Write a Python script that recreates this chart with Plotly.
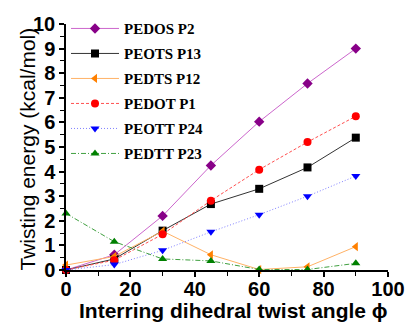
import plotly.graph_objects as go

angles = [0, 15, 30, 45, 60, 75, 90]
pedos_p2 = [0.0, 0.62, 2.2, 4.25, 6.03, 7.58, 9.0]
peots_p13 = [0.0, 0.45, 1.6, 2.68, 3.3, 4.17, 5.38]
pedts_p12 = [0.2, 0.55, 1.58, 0.62, 0.02, 0.13, 0.95]
pedot_p1 = [0.0, 0.4, 1.45, 2.82, 4.08, 5.2, 6.25]
peott_p24 = [0.0, 0.22, 0.8, 1.55, 2.25, 3.0, 3.82]
pedtt_p23 = [2.3, 1.15, 0.45, 0.37, 0.02, 0.02, 0.27]

x_title = "Interring dihedral twist angle ϕ"
y_title = "Twisting energy (kcal/mol)"

series = [
    ("PEDOS P2", pedos_p2, "#cc66cc", "#880088", "diamond", "solid"),
    ("PEOTS P13", peots_p13, "#333333", "#000000", "square", "solid"),
    ("PEDTS P12", pedts_p12, "#ffb266", "#ff8000", "triangle-left", "solid"),
    ("PEDOT P1", pedot_p1, "#ff5050", "#ff0000", "circle", "3px,2px"),
    ("PEOTT P24", peott_p24, "#8080ff", "#0000ff", "triangle-down", "1px,2px"),
    ("PEDTT P23", pedtt_p23, "#40a040", "#008000", "triangle-up", "5px,2px,1px,2px"),
]

fig = go.Figure()
for i, (name, vals, lc, mc, sym, dash) in enumerate(series):
    fig.add_trace(go.Scatter(
        x=angles, y=vals, name=name, mode="lines+markers",
        line=dict(color=lc, width=1, dash=dash),
        marker=dict(color=mc, symbol=sym, size=8),
        legendgroup=f"g{i}", cliponaxis=False,
    ))

axis_common = dict(
    showline=True, linecolor="black", linewidth=1.5, mirror=False,
    ticks="outside", ticklen=5, tickwidth=1.5, tickcolor="black",
    showgrid=False, zeroline=False, automargin=False,
    tickfont=dict(family="Liberation Sans", size=20, color="black", weight="bold"),
)

fig.update_layout(
    width=409, height=322,
    margin=dict(l=66, r=21, t=22, b=52),
    paper_bgcolor="white", plot_bgcolor="white",
    showlegend=True,
    legend=dict(
        x=0.0, y=1.048, xanchor="left", yanchor="top",
        bgcolor="rgba(0,0,0,0)", tracegroupgap=2.5, maxheight=300,
        font=dict(family="Liberation Serif", size=15, color="black", weight="bold"),
        itemwidth=48,
    ),
    xaxis=dict(
        range=[0, 100], dtick=20, ticklabelstandoff=-5,
        minor=dict(dtick=10, ticks="outside", ticklen=4, tickcolor="black", tickwidth=1.2),
        **axis_common,
    ),
    yaxis=dict(
        range=[0, 10], dtick=1,
        minor=dict(dtick=0.5, ticks="outside", ticklen=4, tickcolor="black", tickwidth=1.2),
        **axis_common,
    ),
    annotations=[
        dict(text=x_title, xref="paper", yref="paper", x=0.52, y=-0.165,
             xanchor="center", yanchor="middle", showarrow=False,
             font=dict(family="Liberation Sans", size=21, color="black", weight="bold")),
        dict(text=y_title, xref="paper", yref="paper", x=-0.121, y=0.49,
             xanchor="center", yanchor="middle", showarrow=False, textangle=-90,
             font=dict(family="Liberation Sans", size=21, color="black")),
    ],
)

fig.write_html("out.html")
